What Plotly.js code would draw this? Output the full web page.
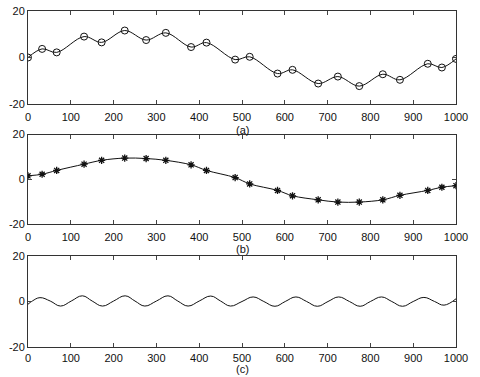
<!DOCTYPE html>
<html>
<head>
<meta charset="utf-8">
<script src="https://cdn.plot.ly/plotly-3.0.1.min.js"></script>
<style>html,body{margin:0;padding:0;background:#fff;}#plot{width:480px;height:377px;}</style>
</head>
<body>
<div id="plot"></div>
<script>
// sample positions shared by panels (a) and (b)
const sampleX = [0, 33, 67, 131, 172, 226, 276, 322, 381, 417, 484, 518, 583, 618, 678, 724, 774, 829, 869, 934, 967, 1000];
// panel (a): noisy signal
const aY = [0, 3.7, 2.2, 9.0, 6.5, 11.6, 7.5, 10.6, 4.5, 6.4, -0.9, 0.3, -6.9, -5.3, -11.2, -8.2, -12.3, -7.2, -9.6, -2.7, -4.3, -0.6];
// panel (b): slow component
const bY = [1.6, 2.3, 4.0, 6.8, 8.5, 9.5, 9.3, 8.5, 6.5, 4.0, 0.8, -2.0, -4.9, -7.3, -9.1, -10.1, -10.1, -9.1, -7.1, -4.9, -3.5, -2.8];
// panel (c): fast oscillation
const cX = [0, 10, 28, 52, 76, 101, 127, 150, 174, 200, 227, 250, 273, 300, 327, 350, 374, 400, 427, 450, 473, 500, 526, 551, 577, 601, 626, 651, 676, 701, 726, 751, 776, 800, 826, 850, 875, 900, 925, 950, 972, 1000];
const cY = [-1.2, 0.2, 1.7, 0.2, -2.0, 0.2, 2.5, 0.2, -2.0, 0.2, 2.5, 0.2, -2.0, 0.2, 2.5, 0.2, -2.0, 0.2, 2.4, 0.2, -2.0, 0.0, 2.0, 0.0, -2.1, 0.0, 2.0, 0.0, -2.1, 0.0, 2.0, 0.0, -2.1, 0.0, 2.0, 0.0, -2.1, 0.0, 1.8, 0.0, -1.6, 1.2];
const xTicks = [0, 100, 200, 300, 400, 500, 600, 700, 800, 900, 1000];
const yTicks = [-20, 0, 20];
const panelLabels = ['(a)', '(b)', '(c)'];
const labelShift = [-26, -25, -22];
const tickStandoff = [3, 3, 1];

const lineStyle = {color: '#111', width: 1, shape: 'spline', smoothing: 1};
const traces = [
  {x: sampleX, y: aY, mode: 'lines+markers', line: lineStyle,
   marker: {symbol: 'circle-open', size: 7, color: '#111', line: {width: 1}}, xaxis: 'x', yaxis: 'y'},
  {x: sampleX, y: bY, mode: 'lines+markers', line: lineStyle,
   marker: {symbol: 'asterisk-open', size: 6, color: '#111', line: {width: 1.3}}, xaxis: 'x2', yaxis: 'y2'},
  {x: cX, y: cY, mode: 'lines', line: {color: '#111', width: 1, shape: 'spline', smoothing: 1.2}, xaxis: 'x3', yaxis: 'y3'}
];

const font = {family: 'Liberation Sans, Arial, sans-serif', size: 11, color: '#111'};
function xa(anchor, i) {
  return {range: [0, 1000], tickvals: xTicks, ticktext: xTicks.map(String), ticks: 'inside', ticklen: 4,
    ticklabelstandoff: tickStandoff[i],
    showline: true, mirror: 'ticks', linecolor: '#333', linewidth: 1, showgrid: false, zeroline: false,
    anchor: anchor, tickfont: font};
}
function ya(anchor, dom) {
  return {range: [-20, 20], tickvals: yTicks, ticktext: yTicks.map(String), ticks: 'inside', ticklen: 4,
    showline: true, mirror: 'ticks', linecolor: '#333', linewidth: 1, showgrid: false, zeroline: false,
    anchor: anchor, domain: dom, tickfont: font};
}
const layout = {
  width: 480, height: 377, showlegend: false,
  paper_bgcolor: '#fff', plot_bgcolor: '#fff',
  margin: {l: 28, r: 24, t: 11, b: 30},
  font: font,
  xaxis: xa('y', 0), yaxis: ya('x', [0.7232, 1]),
  xaxis2: xa('y2', 1), yaxis2: ya('x2', [0.3652, 0.6324]),
  xaxis3: xa('y3', 2), yaxis3: ya('x3', [0, 0.2708]),
  annotations: panelLabels.map((t, i) => ({
    text: t, showarrow: false, xref: (i ? 'x' + (i + 1) : 'x') + ' domain', yref: (i ? 'y' + (i + 1) : 'y') + ' domain',
    x: 0.5, y: 0, yanchor: 'middle', yshift: labelShift[i], font: font
  }))
};
Plotly.newPlot('plot', traces, layout, {staticPlot: true});
</script>
</body>
</html>
